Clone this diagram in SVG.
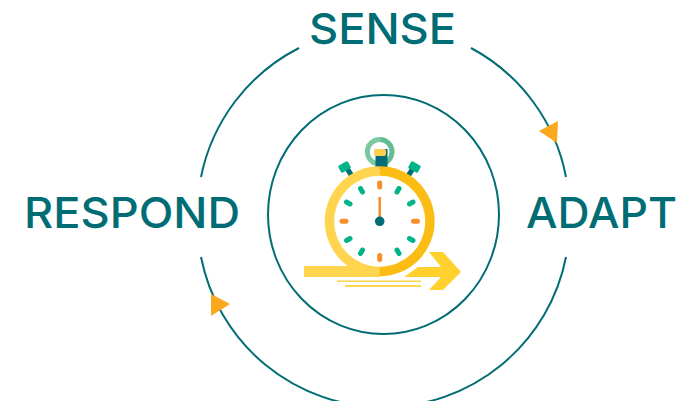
<svg xmlns="http://www.w3.org/2000/svg" width="697" height="401" viewBox="0 0 697 401">
<style>
.lbl{font-family:Inter,"Liberation Sans",sans-serif;font-size:43px;font-weight:500;fill:#006d75}
.arc{fill:none;stroke:#006d75;stroke-width:2}
.tri{fill:#fca81e}
.gt{stroke:#00b388;stroke-width:5;stroke-linecap:round}
.ot{stroke:#f68f27;stroke-width:5;stroke-linecap:round}
</style>
<rect width="697" height="401" fill="#fff"/>
<g id="connectors">
<path class="arc" d="M299 48A186 186 0 0 0 201 177"/>
<path class="arc" d="M471 48A186 186 0 0 1 566 177"/>
<path class="arc" d="M566 257A186 186 0 0 1 201 257"/>
<polygon class="tri" points="539,131 558,121 557,143"/>
<polygon class="tri" points="211,294 230,304 211,316"/>
</g>
<g id="inner-circle"><ellipse class="arc" cx="383.500" cy="214.500" rx="115.500" ry="119.500"/></g>
<g id="sense"><text class="lbl" x="309" y="44" textLength="147" lengthAdjust="spacingAndGlyphs">SENSE</text></g>
<g id="respond"><text class="lbl" x="24" y="228" textLength="216" lengthAdjust="spacingAndGlyphs">RESPOND</text></g>
<g id="adapt"><text class="lbl" x="526" y="228" textLength="151" lengthAdjust="spacingAndGlyphs">ADAPT</text></g>
<g id="stopwatch">
<path d="M379.700 139.500A12.300 12.300 0 0 0 379.700 164.100" fill="none" stroke="#7cc8a0" stroke-width="5"/>
<path d="M379.700 139.500A12.300 12.300 0 0 1 379.700 164.100" fill="none" stroke="#62bd95" stroke-width="5"/>
<rect x="374" y="149" width="12" height="20" fill="#006d75" transform="translate(1.500 0) scale(1 1)" style="transform-box:fill-box"/>
<rect x="374" y="149" width="12" height="7" rx="2" fill="#ffd04f"/>
<path d="M346 167L352 176M414 167L408 176" stroke="#006d75" stroke-width="5"/>
<rect x="339" y="163" width="11" height="8" rx="1.500" fill="#00b388" transform="rotate(-30 344.500 167)"/>
<rect x="409" y="163" width="11" height="8" rx="1.500" fill="#00b388" transform="rotate(30 414.500 167)"/>
<rect x="304" y="266" width="76" height="11" fill="#ffd54f"/>
<path d="M379.700 166.300A55 55 0 0 0 379.700 276.300V221.300Z" fill="#ffd54f"/>
<path d="M379.700 166.300A55 55 0 0 1 379.700 276.300V221.300Z" fill="#fbbc14"/>
<circle cx="379.700" cy="221.300" r="45.500" fill="#fff"/>
<path d="M379.700 266A45.500 45.500 0 0 1 339 241L345 266Z" fill="#ffd54f" opacity="0"/>
<path class="ot" d="M379.700 183V187M379.700 255.500V259.500M342 221.300H346M413.500 221.300H417.500"/>
<path class="gt" d="M360.500 188.500L362.500 192M399 188.500L397 192M346.500 202L350 204M413 202L409.500 204M346.500 240.500L350 238.500M413 240.500L409.500 238.500M362.500 250L360.500 253.500M397 250L399 253.500"/>
<path d="M379.700 197V218" stroke="#f68f27" stroke-width="2.500"/>
<circle cx="379.700" cy="221.300" r="4.800" fill="#006d75"/>
<polygon points="429,252 443,252 461,272 443,290 429,290 441,277 404,277 418,267 441,267" fill="#ffd02e"/>
<path d="M337 280.500H421V282H337ZM345 285H421V287H345Z" fill="#ffd54f"/>
</g>
</svg>
